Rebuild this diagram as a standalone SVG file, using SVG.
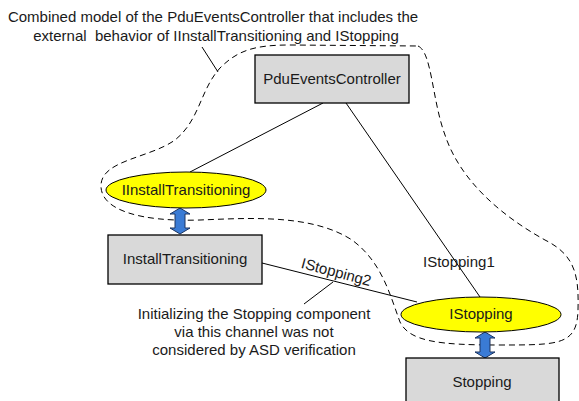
<svg xmlns="http://www.w3.org/2000/svg" width="579" height="401" viewBox="0 0 579 401">
<style>
text{font-family:"Liberation Sans",Arial,sans-serif;font-size:15px;fill:#1a1a1a}
.box{fill:#d9d9d9;stroke:#000;stroke-width:1.3}
.ell{fill:#ffff00;stroke:#000;stroke-width:1}
.ln{stroke:#000;stroke-width:1;fill:none}
.dash{stroke:#000;stroke-width:1;fill:none;stroke-dasharray:6,4}
.dbl{fill:#3a7bd5;stroke:#1c3560;stroke-width:1}
.c{text-anchor:middle}
</style>
<rect width="579" height="401" fill="#fff"/>
<g id="boundary">
<path class="dash" d="M 418,46 C 432,52 432,100 445,135 C 460,180 500,215 545,240 C 575,255 579,275 578,310 C 577,345 560,345 500,345 C 440,345 410,342 400,322 C 390,295 382,262 352,240 C 312,214 250,218 200,220 C 140,222 100,210 101,185 C 102,160 150,158 175,140 C 200,120 200,90 220,68 C 238,50 255,45 290,45 Z"/>
</g>
<g id="connectors">
<line class="ln" x1="202" y1="47" x2="218" y2="72"/>
<line class="ln" x1="323" y1="103" x2="190" y2="172"/>
<line class="ln" x1="346" y1="103" x2="480" y2="297"/>
<line class="ln" x1="262" y1="263" x2="417" y2="302"/>
<line class="ln" x1="304" y1="304" x2="333" y2="282"/>
<polygon class="dbl" points="180,208 190,214 185,214 185,228 190,228 180,234 170,228 175,228 175,214 170,214"/>
<polygon class="dbl" points="485,332 495,338 490,338 490,352 495,352 485,358 475,352 480,352 480,338 475,338"/>
<text x="423" y="267">IStopping1</text>
<text class="c" transform="translate(335,277) rotate(15)">IStopping2</text>
</g>
<g id="title">
<text class="c" x="213" y="22">Combined model of the PduEventsController that includes the</text>
<text class="c" x="216" y="41" xml:space="preserve">external  behavior of IInstallTransitioning and IStopping</text>
</g>
<g id="note">
<text class="c" x="254" y="319">Initializing the Stopping component</text>
<text class="c" x="254" y="337">via this channel was not</text>
<text class="c" x="254" y="355">considered by ASD verification</text>
</g>
<g id="PduEventsController">
<rect class="box" x="255" y="55" width="154" height="48"/>
<text class="c" x="332" y="84">PduEventsController</text>
</g>
<g id="IInstallTransitioning">
<ellipse class="ell" cx="186" cy="190" rx="80" ry="18"/>
<text class="c" x="186" y="195">IInstallTransitioning</text>
</g>
<g id="InstallTransitioning">
<rect class="box" x="108" y="235" width="154" height="49"/>
<text class="c" x="185" y="264">InstallTransitioning</text>
</g>
<g id="IStopping">
<ellipse class="ell" cx="481" cy="314.5" rx="80" ry="17.5"/>
<text class="c" x="481" y="319">IStopping</text>
</g>
<g id="Stopping">
<rect class="box" x="406" y="358" width="153" height="48"/>
<text class="c" x="482" y="387">Stopping</text>
</g>
</svg>
